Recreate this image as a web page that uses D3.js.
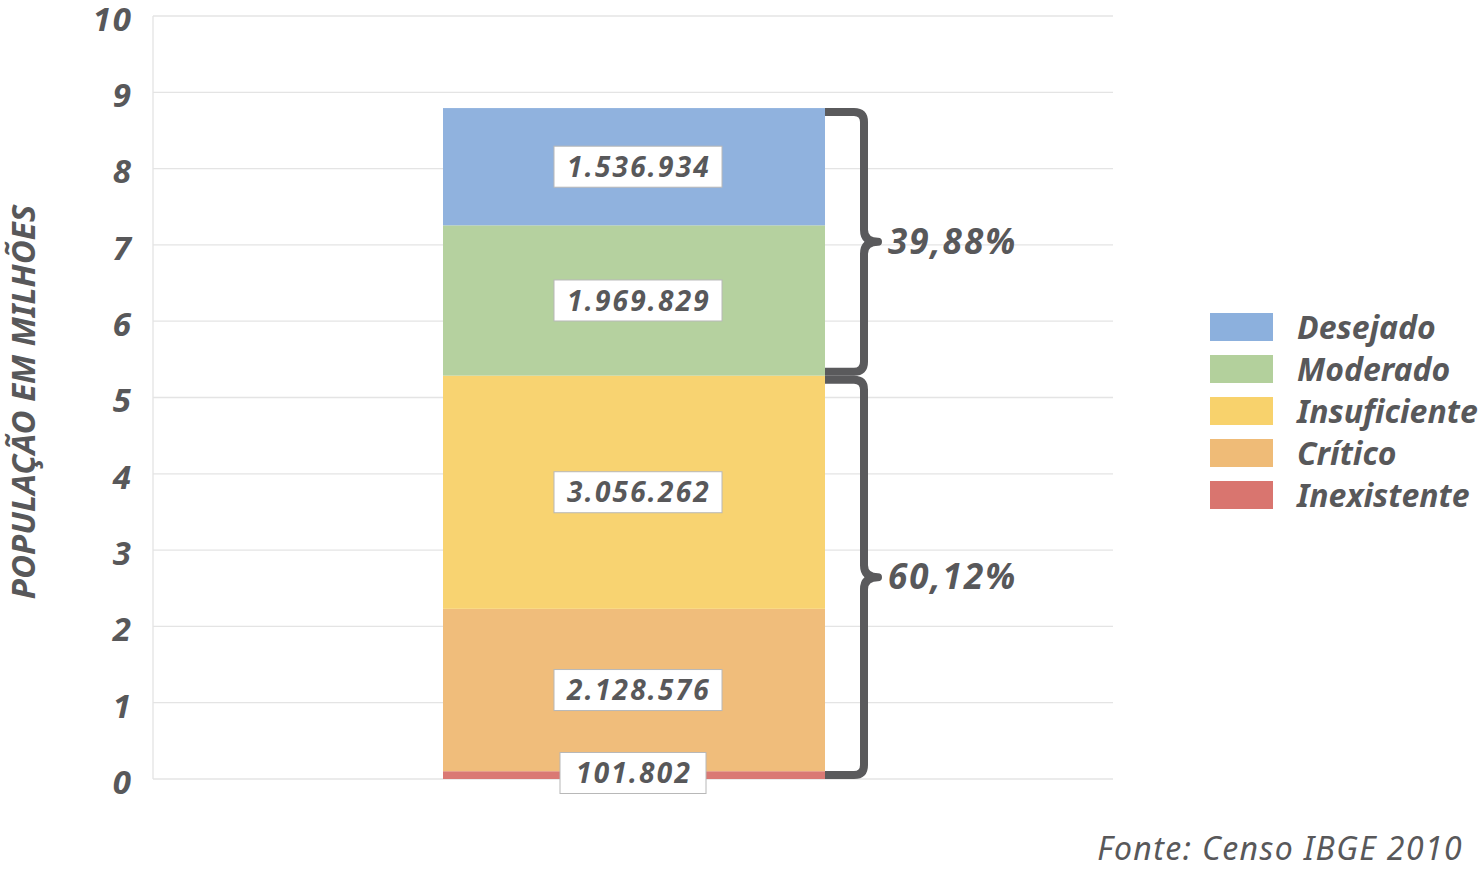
<!DOCTYPE html>
<html><head><meta charset="utf-8">
<script src="https://cdn.jsdelivr.net/npm/d3@7"></script>
<style>
body{margin:0;background:#fff;}
text{font-family:"Noto Sans","Open Sans",sans-serif;fill:#58585a;}
</style></head>
<body><svg id="c" width="1482" height="871"></svg>
<script>
const categories = ["Inexistente","Crítico","Insuficiente","Moderado","Desejado"];
const values = [101802, 2128576, 3056262, 1969829, 1536934];
const colors = ["#d9756f","#efbb77","#f8d26c","#b3d09c","#8cb0dd"];
const legendOrder = ["Desejado","Moderado","Insuficiente","Crítico","Inexistente"];
const yTicks = [0,1,2,3,4,5,6,7,8,9,10];
const groups = [{from:0,to:3},{from:3,to:5}]; // indices into stacked categories
const yTitle = "POPULAÇÃO EM MILHÕES";
const source = "Fonte: Censo IBGE 2010";

const svg = d3.select("#c");
const loc = d3.formatLocale({decimal:",",thousands:".",grouping:[3],currency:["R$",""]});
const fmtN = loc.format(",d");
const fmtP = loc.format(".2f");

const x0=153,x1=1113,yTop=16,yBot=779;
const y = d3.scaleLinear().domain([0,10]).range([yBot,yTop]);

// grid
svg.append("g").selectAll("line").data(yTicks).join("line")
  .attr("x1",x0).attr("x2",x1).attr("y1",d=>y(d)).attr("y2",d=>y(d))
  .attr("stroke","#e4e4e4").attr("stroke-width",1.3);
svg.append("line").attr("x1",x0).attr("x2",x0).attr("y1",yTop).attr("y2",yBot)
  .attr("stroke","#e4e4e4").attr("stroke-width",1.3);

// y ticks
svg.append("g").selectAll("text").data(yTicks).join("text")
  .attr("x",133).attr("y",d=>y(d)).attr("dy","0.45em").attr("text-anchor","end")
  .style("font-size","33px").style("font-weight","bold").style("font-style","italic")
  .style("letter-spacing","2px")
  .text(d=>d);

// y title
svg.append("text").attr("transform","translate(35,402) rotate(-90)").attr("text-anchor","middle")
  .style("font-size","33px").style("font-weight","bold").style("font-style","italic").text(yTitle);

// stack
let cum=0;
const segs = values.map((v,i)=>{const s={cat:categories[i],v,y0:cum/1e6,y1:(cum+v)/1e6,c:colors[i]};cum+=v;return s;});
const total = cum;
const bx = 443, bw = 825-443;
svg.append("g").selectAll("rect").data(segs).join("rect")
  .attr("x",bx).attr("width",bw)
  .attr("y",d=>y(d.y1)).attr("height",d=>y(d.y0)-y(d.y1))
  .attr("fill",d=>d.c).attr("fill-opacity",0.97);

// data labels
const lab = svg.append("g").selectAll("g").data(segs).join("g")
  .attr("transform",(d,i)=>{
    const cx = i===0?633:638;
    const cy = i===0?y(d.y0)-6:(y(d.y0)+y(d.y1))/2;
    return `translate(${cx},${cy})`;});
lab.each(function(d,i){
  const g=d3.select(this);
  const w = i===0?146:168;
  g.append("rect").attr("x",-w/2).attr("y",-20.5).attr("width",w).attr("height",41)
    .attr("fill","#fff").attr("stroke","#b8b8b8").attr("stroke-width",1);
  g.append("text").attr("text-anchor","middle").attr("dy","0.36em").attr("x",1)
    .style("font-size","28px").style("font-weight","bold").style("font-style","italic")
    .style("letter-spacing","2.2px")
    .text(fmtN(d.v));
});

// braces
function brace(t,b){
  const xa=825, xs=864, r=10, tip=878, m=(t+b)/2;
  return `M${xa},${t} L${xs-r},${t} Q${xs},${t} ${xs},${t+r} L${xs},${m-12} Q${xs},${m} ${tip},${m} Q${xs},${m} ${xs},${m+12} L${xs},${b-r} Q${xs},${b} ${xs-r},${b} L${xa},${b}`;
}
groups.forEach(gp=>{
  const lo = segs[gp.from].y0, hi = segs[gp.to-1].y1;
  const t = y(hi)+4, b = y(lo)-4;
  const sum = d3.sum(values.slice(gp.from,gp.to));
  svg.append("path").attr("d",brace(t,b)).attr("fill","none")
    .attr("stroke","#5a5a5c").attr("stroke-width",8).attr("stroke-linejoin","round");
  svg.append("text").attr("x",888).attr("y",(t+b)/2).attr("dy","0.34em")
    .style("font-size","35px").style("font-weight","bold").style("font-style","italic")
    .style("letter-spacing","2px")
    .text(fmtP(sum/total*100)+"%");
});

// legend
const lg = svg.append("g").selectAll("g").data(legendOrder).join("g")
  .attr("transform",(d,i)=>`translate(1210,${313+i*42})`);
lg.append("rect").attr("width",63).attr("height",28)
  .attr("fill",d=>colors[categories.indexOf(d)]);
lg.append("text").attr("x",87).attr("y",14).attr("dy","0.38em")
  .style("font-size","32px").style("font-weight","bold").style("font-style","italic").text(d=>d);

// source
svg.append("text").attr("x",1463).attr("y",860).attr("text-anchor","end")
  .style("font-size","32px").style("font-style","italic").style("letter-spacing","1.4px").text(source);
</script></body></html>
